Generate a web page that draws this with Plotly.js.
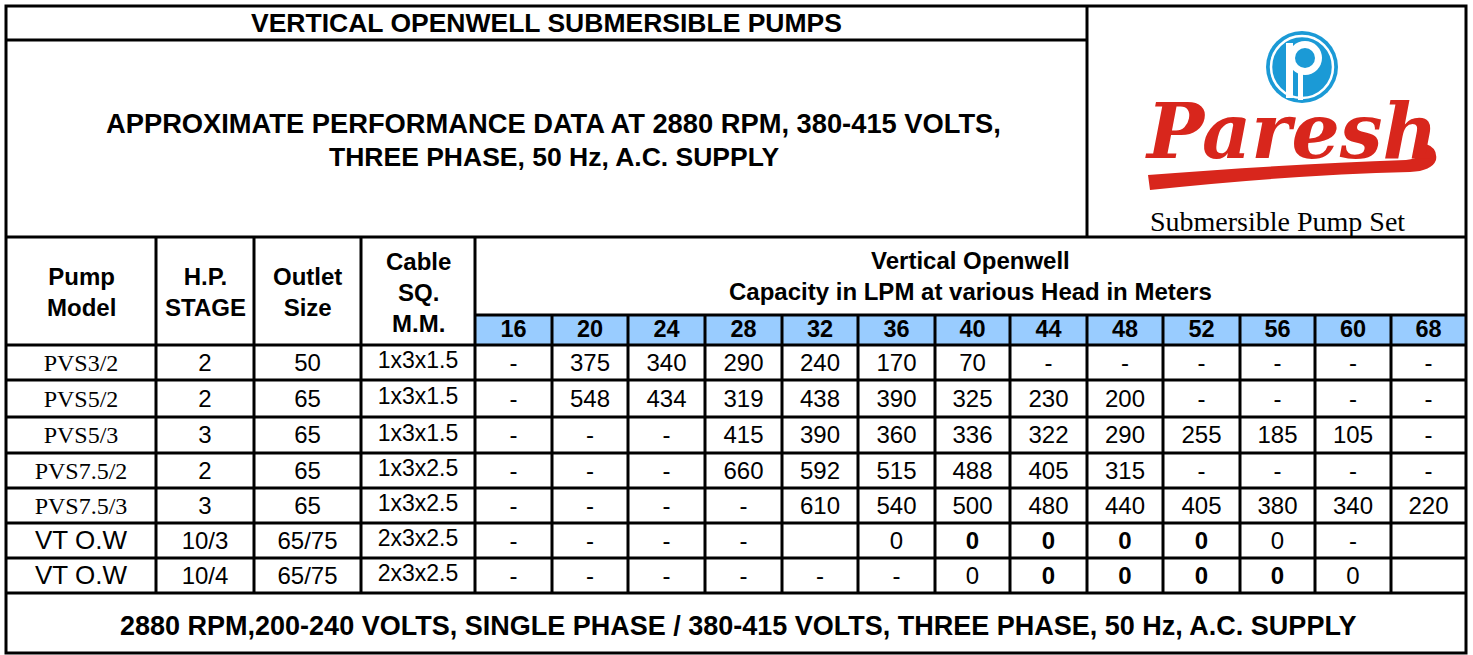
<!DOCTYPE html>
<html><head><meta charset="utf-8">
<script src="https://cdn.plot.ly/plotly-3.0.1.min.js"></script>
<style>html,body{margin:0;padding:0;background:#fff}#chart{width:1473px;height:655px}</style>
</head><body><div id="chart"></div>
<script>
// ---------- DATA ----------
const heads = [16, 20, 24, 28, 32, 36, 40, 44, 48, 52, 56, 60, 68];
const models = ["PVS3/2", "PVS5/2", "PVS5/3", "PVS7.5/2", "PVS7.5/3", "VT O.W", "VT O.W"];
const hpStage = ["2", "2", "3", "2", "3", "10/3", "10/4"];
const outletSize = ["50", "65", "65", "65", "65", "65/75", "65/75"];
const cableSq = ["1x3x1.5", "1x3x1.5", "1x3x1.5", "1x3x2.5", "1x3x2.5", "2x3x2.5", "2x3x2.5"];
const capPVS3_2   = ["-", 375, 340, 290, 240, 170, 70, "-", "-", "-", "-", "-", "-"];
const capPVS5_2   = ["-", 548, 434, 319, 438, 390, 325, 230, 200, "-", "-", "-", "-"];
const capPVS5_3   = ["-", "-", "-", 415, 390, 360, 336, 322, 290, 255, 185, 105, "-"];
const capPVS7_5_2 = ["-", "-", "-", 660, 592, 515, 488, 405, 315, "-", "-", "-", "-"];
const capPVS7_5_3 = ["-", "-", "-", "-", 610, 540, 500, 480, 440, 405, 380, 340, 220];
const capVT10_3   = ["-", "-", "-", "-", "", 0, 0, 0, 0, 0, 0, "-", ""];
const capVT10_4   = ["-", "-", "-", "-", "-", "-", 0, 0, 0, 0, 0, 0, ""];
const boldVT10_3  = [0, 0, 0, 0, 0, 0, 1, 1, 1, 1, 0, 0, 0];
const boldVT10_4  = [0, 0, 0, 0, 0, 0, 0, 1, 1, 1, 1, 0, 0];
const capacityRows = [capPVS3_2, capPVS5_2, capPVS5_3, capPVS7_5_2, capPVS7_5_3, capVT10_3, capVT10_4];
const boldRows = [null, null, null, null, null, boldVT10_3, boldVT10_4];

const titleText = "VERTICAL OPENWELL SUBMERSIBLE PUMPS";
const subtitleLines = ["APPROXIMATE PERFORMANCE DATA AT 2880 RPM, 380-415 VOLTS,", "THREE PHASE, 50 Hz, A.C. SUPPLY"];
const footerText = "2880 RPM,200-240 VOLTS, SINGLE PHASE / 380-415 VOLTS, THREE PHASE, 50 Hz, A.C. SUPPLY";
const groupHeader = ["Vertical Openwell", "Capacity in LPM at various Head in Meters"];
const brandName = "Paresh";
const brandTagline = "Submersible Pump Set";

// ---------- LAYOUT GEOMETRY ----------
const W = 1473, H = 655;
const colEdges = [6, 156, 254, 361, 475, 552, 628, 705, 782, 858, 935, 1010, 1087, 1163, 1240, 1315, 1391, 1466];
const rowEdges = [345, 380, 417, 453, 488, 523, 558, 593];
const yTop = 6, yTitle = 40, yHead = 237, yBlue = 315, yBottom = 653, xLogo = 1087;
const ARIAL = "Liberation Sans, Arial, sans-serif";
const TIMES = "Liberation Serif, Times New Roman, serif";
const BLUE = "#99ccff";

const cx = i => (colEdges[i] + colEdges[i + 1]) / 2;
const cy = r => (rowEdges[r] + rowEdges[r + 1]) / 2;

const shapes = [];
const line = (x0, y0, x1, y1, w) => shapes.push({type: "line", xref: "x", yref: "y", x0, y0, x1, y1, line: {color: "#000", width: w || 3}});
shapes.push({type: "rect", xref: "x", yref: "y", x0: colEdges[4], x1: colEdges[17], y0: yBlue, y1: rowEdges[0], fillcolor: BLUE, line: {width: 0}, layer: "below"});
shapes.push({type: "rect", xref: "x", yref: "y", x0: colEdges[0], x1: colEdges[17], y0: yTop, y1: yBottom, line: {color: "#000", width: 3}});
line(colEdges[0], yTitle, xLogo, yTitle);
line(xLogo, yTop, xLogo, yHead);
line(colEdges[0], yHead, colEdges[17], yHead);
line(colEdges[4], yBlue, colEdges[17], yBlue);
rowEdges.forEach(y => line(colEdges[0], y, colEdges[17], y));
for (let i = 1; i <= 4; i++) line(colEdges[i], yHead, colEdges[i], rowEdges[7]);
for (let i = 5; i <= 16; i++) line(colEdges[i], yBlue, colEdges[i], rowEdges[7]);

// Logo: blue emblem
const lx = 1302, ly = 67;
shapes.push({type: "circle", xref: "x", yref: "y", x0: lx - 36, x1: lx + 36, y0: ly - 36, y1: ly + 36, fillcolor: "#1b9ad6", line: {width: 0}});
shapes.push({type: "circle", xref: "x", yref: "y", x0: lx - 31, x1: lx + 31, y0: ly - 31, y1: ly + 31, fillcolor: "rgba(0,0,0,0)", line: {color: "#fff", width: 2.5}});
shapes.push({type: "rect", xref: "x", yref: "y", x0: lx - 16, x1: lx - 9, y0: ly - 24, y1: ly + 31, fillcolor: "#fff", line: {width: 0}});
shapes.push({type: "circle", xref: "x", yref: "y", x0: lx - 14, x1: lx + 20, y0: ly - 26, y1: ly + 8, fillcolor: "#fff", line: {width: 0}});
shapes.push({type: "circle", xref: "x", yref: "y", x0: lx - 7, x1: lx + 13, y0: ly - 19, y1: ly + 1, fillcolor: "#1b9ad6", line: {width: 0}});
shapes.push({type: "rect", xref: "x", yref: "y", x0: lx - 4, x1: lx + 1, y0: ly + 6, y1: ly + 33, fillcolor: "#fff", line: {width: 0}});
// Logo: red swoosh under the name
shapes.push({type: "path", xref: "x", yref: "y",
  path: "M 1148 175 Q 1290 164 1406 160 Q 1426 158 1426 144 Q 1438 148 1436 160 Q 1432 171 1410 172 Q 1290 175 1150 190 Z",
  fillcolor: "#d8261c", line: {width: 0}});

// ---------- TEXT ----------
const ann = [];
const A = (x, y, text, size, family, color) => ann.push({xref: "x", yref: "y", x, y, text, showarrow: false, xanchor: "center", yanchor: "middle", font: {size, family, color: color || "#000"}});
A((colEdges[0] + xLogo) / 2, 23, "<b>" + titleText + "</b>", 26.5, ARIAL);
A((colEdges[0] + xLogo) / 2 + 7, 123, "<b>" + subtitleLines[0] + "</b>", 27.3, ARIAL);
A((colEdges[0] + xLogo) / 2 + 7, 157, "<b>" + subtitleLines[1] + "</b>", 26.5, ARIAL);
A((colEdges[0] + colEdges[17]) / 2 + 2, 626, "<b>" + footerText + "</b>", 27, ARIAL);
A(cx(0), 292, "<b>Pump<br>Model</b>", 24, ARIAL);
A(cx(1), 292, "<b>H.P.<br>STAGE</b>", 24, ARIAL);
A(cx(2), 292, "<b>Outlet<br>Size</b>", 24, ARIAL);
A(cx(3), 292, "<b>Cable<br>SQ.<br>M.M.</b>", 24, ARIAL);
A((colEdges[4] + colEdges[17]) / 2, 276, "<b>" + groupHeader[0] + "<br>" + groupHeader[1] + "</b>", 24, ARIAL);
A(1291, 131, "<b><i>" + brandName + "</i></b>", 76, "DejaVu Serif, serif", "#d8261c");
A(1277, 221, brandTagline, 28, TIMES);

// scatter text trace for table cells
const tx = [], ty = [], tt = [], tf = [], ts = [];
const push = (x, y, t, f, s) => { tx.push(x); ty.push(y); tt.push(t); tf.push(f); ts.push(s); };
heads.forEach((h, j) => push(cx(4 + j), (yBlue + rowEdges[0]) / 2 + 1, "<b>" + h + "</b>", ARIAL, 23.5));
models.forEach((m, r) => {
  const vt = r >= 5;
  const y = cy(r) + 2;
  push(cx(0), y, m, vt ? ARIAL : TIMES, vt ? 26 : 24);
  push(cx(1), y, hpStage[r], ARIAL, 24);
  push(cx(2), y, outletSize[r], ARIAL, 24);
  push(cx(3), y - 2, cableSq[r], ARIAL, 23);
  capacityRows[r].forEach((v, j) => {
    if (v === "") return;
    const b = boldRows[r] && boldRows[r][j];
    push(cx(4 + j), y, b ? "<b>" + v + "</b>" : String(v), ARIAL, 24);
  });
});

const data = [{
  type: "scatter", mode: "text", x: tx, y: ty, text: tt,
  textposition: "middle center", textfont: {family: tf, size: ts, color: "#000"},
  hoverinfo: "skip", showlegend: false, cliponaxis: false
}];

const layout = {
  width: W, height: H, margin: {l: 0, r: 0, t: 0, b: 0, pad: 0},
  paper_bgcolor: "#fff", plot_bgcolor: "#fff",
  xaxis: {range: [0, W], visible: false, fixedrange: true},
  yaxis: {range: [H, 0], visible: false, fixedrange: true},
  shapes, annotations: ann, showlegend: false
};
Plotly.newPlot("chart", data, layout, {displayModeBar: false, staticPlot: true});
</script></body></html>
